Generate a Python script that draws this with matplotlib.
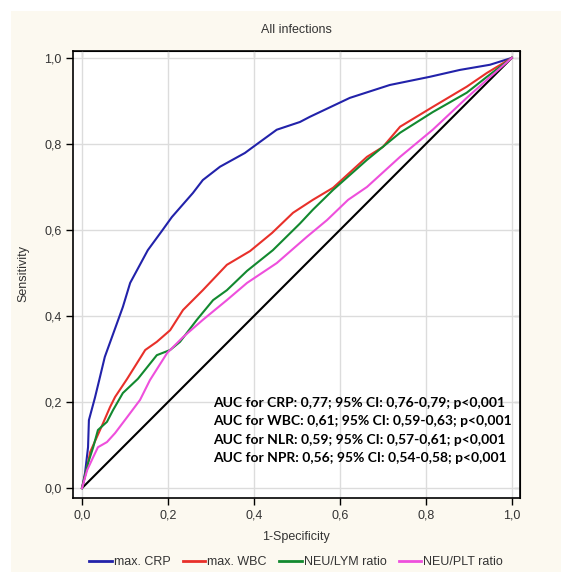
import numpy as np
import matplotlib.pyplot as plt
from matplotlib.patches import Rectangle
from matplotlib.lines import Line2D

# =========================
# Data
# =========================
crp_fpr = [0, 0.007, 0.014, 0.016, 0.03, 0.04, 0.053, 0.095, 0.112, 0.153, 0.186, 0.209,
           0.258, 0.281, 0.321, 0.379, 0.398, 0.453, 0.507, 0.530, 0.623, 0.716, 0.809,
           0.879, 0.949, 1.0]
crp_tpr = [0, 0.035, 0.095, 0.158, 0.21, 0.251, 0.305, 0.421, 0.477, 0.553, 0.598, 0.630,
           0.686, 0.716, 0.747, 0.779, 0.793, 0.833, 0.851, 0.863, 0.907, 0.937, 0.956,
           0.972, 0.984, 1.0]

wbc_fpr = [0, 0.012, 0.019, 0.049, 0.065, 0.077, 0.105, 0.147, 0.174, 0.205, 0.235, 0.281,
           0.337, 0.391, 0.442, 0.491, 0.537, 0.584, 0.663, 0.700, 0.740, 0.816, 0.895,
           0.942, 1.0]
wbc_tpr = [0, 0.049, 0.084, 0.151, 0.188, 0.212, 0.254, 0.321, 0.340, 0.367, 0.414, 0.460,
           0.519, 0.551, 0.593, 0.640, 0.670, 0.698, 0.770, 0.793, 0.840, 0.886, 0.933,
           0.965, 1.0]

nlr_fpr = [0, 0.014, 0.026, 0.037, 0.058, 0.072, 0.095, 0.130, 0.174, 0.205, 0.228, 0.267,
           0.305, 0.337, 0.384, 0.444, 0.507, 0.537, 0.584, 0.663, 0.740, 0.816, 0.895,
           0.942, 1.0]
nlr_tpr = [0, 0.058, 0.095, 0.135, 0.154, 0.181, 0.221, 0.254, 0.309, 0.321, 0.340, 0.391,
           0.437, 0.460, 0.505, 0.553, 0.615, 0.647, 0.693, 0.763, 0.826, 0.874, 0.919,
           0.956, 1.0]

npr_fpr = [0, 0.012, 0.026, 0.037, 0.058, 0.077, 0.105, 0.135, 0.158, 0.198, 0.235, 0.281,
           0.337, 0.384, 0.414, 0.453, 0.523, 0.570, 0.619, 0.663, 0.740, 0.816, 0.895,
           0.942, 1.0]
npr_tpr = [0, 0.042, 0.072, 0.095, 0.107, 0.128, 0.165, 0.205, 0.251, 0.314, 0.351, 0.391,
           0.437, 0.477, 0.497, 0.523, 0.584, 0.623, 0.670, 0.700, 0.770, 0.833, 0.907,
           0.949, 1.0]

series_labels = ['max. CRP', 'max. WBC', 'NEU/LYM ratio', 'NEU/PLT ratio']
series_colors = ['#2222aa', '#e8302a', '#12892f', '#ee4fdc']

auc_lines = [
    'AUC for CRP: 0,77; 95% CI: 0,76-0,79; p<0,001',
    'AUC for WBC: 0,61; 95% CI: 0,59-0,63; p<0,001',
    'AUC for NLR: 0,59; 95% CI: 0,57-0,61; p<0,001',
    'AUC for NPR: 0,56; 95% CI: 0,54-0,58; p<0,001',
]

ticks = [0.0, 0.2, 0.4, 0.6, 0.8, 1.0]
tick_labels = ['0,0', '0,2', '0,4', '0,6', '0,8', '1,0']

# =========================
# Figure
# =========================
W, H = 569, 572
plt.rcParams['font.family'] = ['Liberation Sans', 'DejaVu Sans']
fig = plt.figure(figsize=(W / 100, H / 100), dpi=100, facecolor='white')
fig.patches.append(Rectangle((11 / W, 0), 550 / W, 1 - 11 / H, transform=fig.transFigure,
                             facecolor='#fcf9f0', edgecolor='none', zorder=-10))

ax = fig.add_axes([73 / W, 1 - 498 / H, (520 - 73) / W, (498 - 51) / H])
ax.set_zorder(2)
ax.set_facecolor('white')

ax.plot([0, 1], [0, 1], color='black', lw=1.5, zorder=2)
curves = [(crp_fpr, crp_tpr), (wbc_fpr, wbc_tpr), (nlr_fpr, nlr_tpr), (npr_fpr, npr_tpr)]
for (fx, ty), lab, col in zip(curves, series_labels, series_colors):
    ax.plot(fx, ty, color=col, lw=1.5, label=lab, zorder=3)

ax.set_xlim(-0.021, 1.019)
ax.set_ylim(-0.023, 1.016)
ax.set_xticks(ticks)
ax.set_xticklabels(tick_labels)
ax.set_yticks(ticks)
ax.set_yticklabels(tick_labels)
ax.tick_params(direction='out', length=5, width=1, labelsize=9, colors='black',
               labelcolor='#333333', pad=3)
ax.grid(True, color='#dcdcdc', lw=1)
ax.set_axisbelow(True)
for sp in ax.spines.values():
    sp.set_linewidth(1.2)
    sp.set_color('black')

# inward ticks on top and right
top = ax.secondary_xaxis('top')
top.set_xticks(ticks)
top.tick_params(direction='in', length=4, labeltop=False)
right = ax.secondary_yaxis('right')
right.set_yticks(ticks)
right.tick_params(direction='in', length=4, labelright=False)

for i, line in enumerate(auc_lines):
    ax.text(0.305, 0.198 - i * 0.043, line, fontsize=10, fontweight='bold',
            family=['Lato', 'DejaVu Sans'], color='black', va='center', ha='left', zorder=4)

fig.text(296 / W, 1 - 30 / H, 'All infections', ha='center', va='center', fontsize=9,
         color='#333333')
fig.text(296 / W, 1 - 537 / H, '1-Specificity', ha='center', va='center', fontsize=9,
         color='#333333')
fig.text(23 / W, 1 - 273 / H, 'Sensitivity', ha='center', va='center', rotation=90,
         fontsize=9, color='#333333')

handles = [Line2D([], [], color=c, lw=2) for c in series_colors]
fig.legend(handles, series_labels, loc='center', bbox_to_anchor=(296 / W, 1 - 562 / H),
           ncol=4, frameon=False, fontsize=9, handlelength=1.8, handletextpad=0.15,
           columnspacing=1.0, labelcolor='#333333')

fig.savefig('out.png', dpi=100, facecolor=fig.get_facecolor())
